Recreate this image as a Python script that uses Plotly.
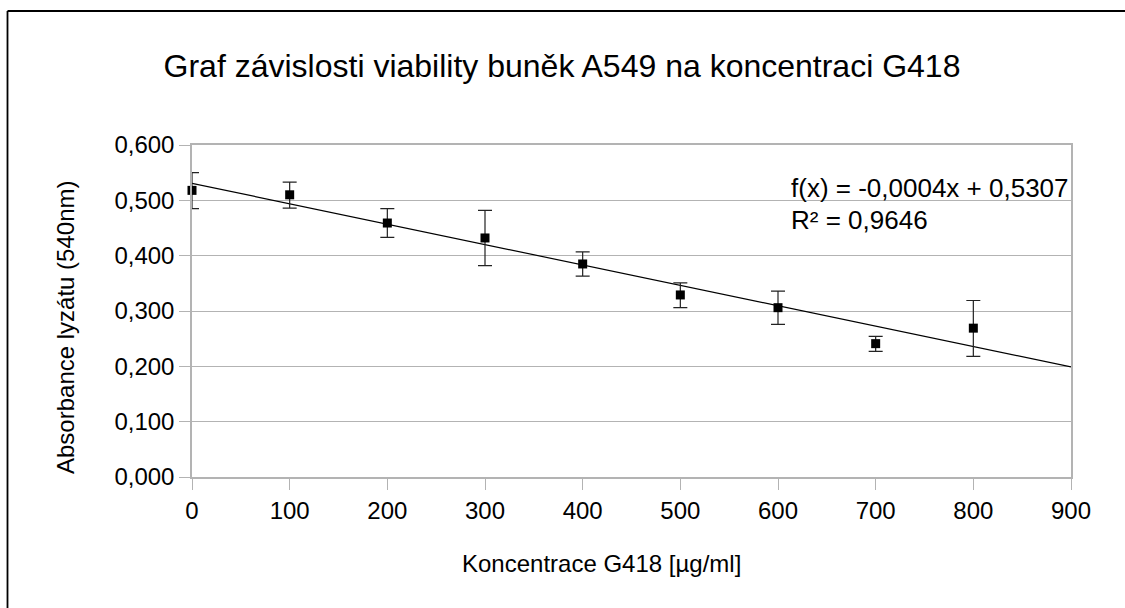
import numpy as np
import plotly.graph_objects as go

# Data
concentration = [0, 100, 200, 300, 400, 500, 600, 700, 800]
absorbance = [0.518, 0.510, 0.459, 0.432, 0.385, 0.329, 0.306, 0.241, 0.269]
err_plus = [0.032, 0.023, 0.026, 0.050, 0.022, 0.022, 0.030, 0.013, 0.050]
err_minus = [0.033, 0.024, 0.026, 0.050, 0.022, 0.023, 0.030, 0.014, 0.051]
x_ticks = [0, 100, 200, 300, 400, 500, 600, 700, 800, 900]
y_ticks = [0.0, 0.1, 0.2, 0.3, 0.4, 0.5, 0.6]
y_tick_labels = ["0,000", "0,100", "0,200", "0,300", "0,400", "0,500", "0,600"]
trend_x = [0, 900]

title_text = "Graf závislosti viability buněk A549 na koncentraci G418"
x_title = "Koncentrace G418 [µg/ml]"
y_title = "Absorbance lyzátu (540nm)"
eq_text = "f(x) = -0,0004x + 0,5307"
r2_text = "R² = 0,9646"

slope, intercept = np.polyfit(concentration, absorbance, 1)
trend_y = [slope * x + intercept for x in trend_x]

W, H = 1125, 608
ML, MR, MT, MB = 192, 54, 145, 131
pw, ph = W - ML - MR, H - MT - MB

def px_to_paper_x(px):
    return (px - ML) / pw

def px_to_paper_y(py):
    return (H - MB - py) / ph

FONT = "Liberation Sans, Arial, sans-serif"

fig = go.Figure()
fig.add_trace(go.Scatter(
    x=trend_x, y=trend_y, mode="lines",
    line=dict(color="black", width=1.2), showlegend=False, hoverinfo="skip",
    cliponaxis=False))
fig.add_trace(go.Scatter(
    x=concentration, y=absorbance, mode="markers",
    marker=dict(symbol="square", size=9, color="black"),
    error_y=dict(type="data", symmetric=False, array=err_plus, arrayminus=err_minus,
                 color="#222222", thickness=1.2, width=7),
    showlegend=False, cliponaxis=False))

fig.update_layout(
    width=W, height=H,
    margin=dict(l=ML, r=MR, t=MT, b=MB, autoexpand=False),
    paper_bgcolor="white", plot_bgcolor="white",
    font=dict(family=FONT, color="black"),
    title=dict(text=title_text, x=562 / W, xanchor="center", xref="container",
               y=1 - 66 / H, yanchor="middle", yref="container",
               font=dict(size=32, family=FONT, color="black")),
    xaxis=dict(range=[0, 900], tickvals=x_ticks, ticks="outside", ticklen=11,
               tickcolor="#b3b3b3", showgrid=False, zeroline=False,
               showline=True, linecolor="#b3b3b3", linewidth=1.5, mirror=True,
               automargin=False,
               tickfont=dict(size=24, family=FONT, color="black")),
    yaxis=dict(range=[0, 0.6], tickvals=y_ticks, ticktext=y_tick_labels,
               ticks="outside", ticklen=11, tickcolor="#b3b3b3",
               showgrid=True, gridcolor="#b3b3b3", gridwidth=1.2, zeroline=False,
               showline=True, linecolor="#b3b3b3", linewidth=1.5, mirror=True,
               automargin=False,
               tickfont=dict(size=24, family=FONT, color="black")),
    annotations=[
        dict(text=y_title, xref="paper", yref="paper",
             x=px_to_paper_x(65), y=px_to_paper_y(328), textangle=-90,
             showarrow=False, xanchor="center", yanchor="middle",
             font=dict(size=24, family=FONT, color="black")),
        dict(text=x_title, xref="paper", yref="paper",
             x=px_to_paper_x(601), y=px_to_paper_y(563),
             showarrow=False, xanchor="center", yanchor="middle",
             font=dict(size=24, family=FONT, color="black")),
        dict(text=eq_text, xref="paper", yref="paper",
             x=px_to_paper_x(789), y=px_to_paper_y(188),
             showarrow=False, xanchor="left", yanchor="middle",
             font=dict(size=26, family=FONT, color="black")),
        dict(text=r2_text, xref="paper", yref="paper",
             x=px_to_paper_x(789), y=px_to_paper_y(220),
             showarrow=False, xanchor="left", yanchor="middle",
             font=dict(size=26, family=FONT, color="black")),
    ],
    shapes=[
        dict(type="line", xref="paper", yref="paper",
             x0=px_to_paper_x(7.5), x1=px_to_paper_x(7.5),
             y0=px_to_paper_y(H + 20), y1=px_to_paper_y(11),
             line=dict(color="black", width=1.8), layer="above"),
        dict(type="line", xref="paper", yref="paper",
             x0=px_to_paper_x(7.5), x1=px_to_paper_x(W + 20),
             y0=px_to_paper_y(11), y1=px_to_paper_y(11),
             line=dict(color="black", width=1.8), layer="above"),
    ],
)

fig.write_html("out.html", config={"displayModeBar": False},
               post_script="document.body.style.margin='0px';"
                           "document.body.style.overflow='hidden';")
